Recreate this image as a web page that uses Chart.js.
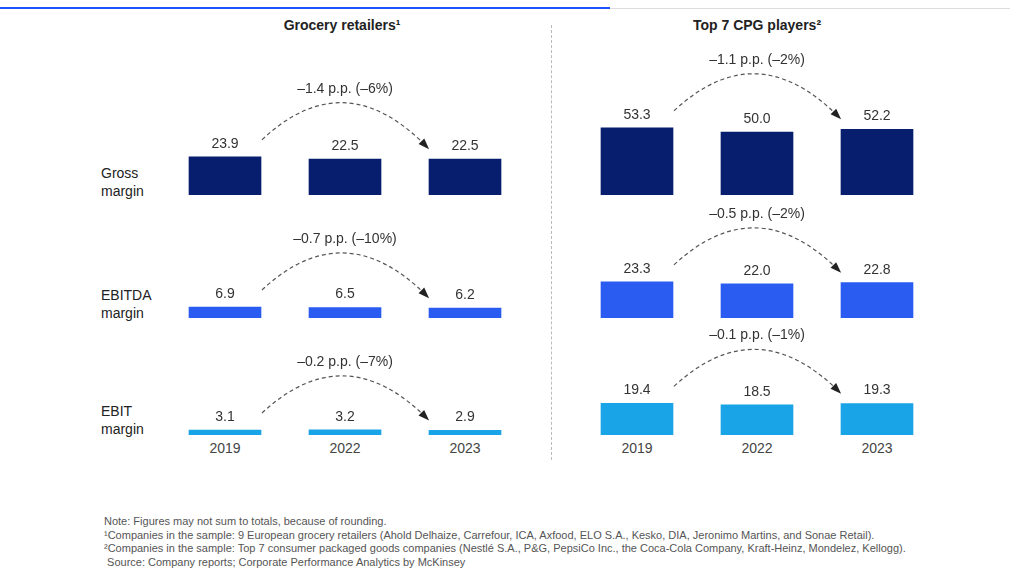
<!DOCTYPE html>
<html><head><meta charset="utf-8">
<script src="https://cdn.jsdelivr.net/npm/chart.js@4"></script>
<style>
body{margin:0;width:1024px;height:588px;background:#fff;font-family:Arial,"Liberation Sans",sans-serif;color:#222;position:relative;overflow:hidden}
.a{position:absolute}
canvas{position:absolute}
.t{font-weight:bold;font-size:14px;transform:translateX(-50%);white-space:nowrap}
.rl{font-size:14px;line-height:18px;color:#222}
.yr{font-size:14px;color:#444;transform:translateX(-50%)}
.fn{font-size:11px;color:#555;line-height:13.5px;left:104px;top:515px}
</style></head><body>
<div class="a" style="left:0;top:7px;width:610px;height:2px;background:#2251ff"></div>
<div class="a" style="left:610px;top:8px;width:400px;height:1px;background:#ddd"></div>
<div class="a" style="left:551px;top:25px;height:435px;border-left:1px dashed #bbb"></div>
<div class="a t" style="left:342px;top:17px">Grocery retailers¹</div>
<div class="a t" style="left:757px;top:17px">Top 7 CPG players²</div>
<div class="a rl" style="left:101px;top:164px">Gross<br>margin</div>
<div class="a rl" style="left:101px;top:286px">EBITDA<br>margin</div>
<div class="a rl" style="left:101px;top:402px">EBIT<br>margin</div>
<div id="yrs"></div>
<div class="a fn">Note: Figures may not sum to totals, because of rounding.<br>¹Companies in the sample: 9 European grocery retailers (Ahold Delhaize, Carrefour, ICA, Axfood, ELO S.A., Kesko, DIA, Jeronimo Martins, and Sonae Retail).<br>²Companies in the sample: Top 7 consumer packaged goods companies (Nestlé S.A., P&amp;G, PepsiCo Inc., the Coca-Cola Company, Kraft-Heinz, Mondelez, Kellogg).<br>&nbsp;Source: Company reports; Corporate Performance Analytics by McKinsey</div>
<script>
const years=['2019','2022','2023'];
const grocGross=[23.9,22.5,22.5], grocEbitda=[6.9,6.5,6.2], grocEbit=[3.1,3.2,2.9];
const cpgGross=[53.3,50.0,52.2], cpgEbitda=[23.3,22.0,22.8], cpgEbit=[19.4,18.5,19.3];
const changes=[['–1.4 p.p. (–6%)','–0.7 p.p. (–10%)','–0.2 p.p. (–7%)'],['–1.1 p.p. (–2%)','–0.5 p.p. (–2%)','–0.1 p.p. (–1%)']];
const colors=['#071d6e','#2a5cf2','#18a4e6'];
const cols=[{x:165,data:[grocGross,grocEbitda,grocEbit],ppu:[1.6,1.6,1.6]},{x:577,data:[cpgGross,cpgEbitda,cpgEbit],ppu:[1.26,1.55,1.63]}];
const rows=[{top:40,base:195},{top:198,base:318},{top:328,base:435}];
const yrs=document.getElementById('yrs');
cols.forEach(c=>years.forEach((y,i)=>{const d=document.createElement('div');d.className='a yr';d.style.left=(c.x+60+120*i)+'px';d.style.top='440px';d.textContent=y;yrs.appendChild(d);}));
const ann={id:'ann',afterDatasetsDraw(ch,a,o){const ctx=ch.ctx,m=ch.getDatasetMeta(0),vals=ch.data.datasets[0].data;
 ctx.save();ctx.fillStyle='#333';ctx.font='14px Arial, "Liberation Sans", sans-serif';ctx.textAlign='center';ctx.textBaseline='middle';
 const ly=m.data.map(b=>b.y-13);
 m.data.forEach((b,i)=>ctx.fillText(vals[i].toFixed(1),b.x,ly[i]));
 const ty=Math.min(...ly)-55;
 ctx.fillText(o.text,m.data[1].x,ty);
 const x0=m.data[0].x+37,y0=ly[0]-4,x2=m.data[2].x-38,y2=ly[2]+1;
 const peak=ty+14, cy=2*peak-(y0+y2)/2, cx=(x0+x2)/2;
 ctx.strokeStyle='#555';ctx.lineWidth=1.2;ctx.setLineDash([4,3]);
 ctx.beginPath();ctx.moveTo(x0,y0);ctx.quadraticCurveTo(cx,cy,x2,y2);ctx.stroke();
 ctx.setLineDash([]);
 const ang=Math.atan2(y2-cy,x2-cx);ctx.fillStyle='#222';ctx.beginPath();
 ctx.moveTo(x2+3*Math.cos(ang),y2+3*Math.sin(ang));
 ctx.lineTo(x2-8*Math.cos(ang)+4*Math.sin(ang),y2-8*Math.sin(ang)-4*Math.cos(ang));
 ctx.lineTo(x2-8*Math.cos(ang)-4*Math.sin(ang),y2-8*Math.sin(ang)+4*Math.cos(ang));ctx.closePath();ctx.fill();
 ctx.restore();}};
cols.forEach((c,ci)=>rows.forEach((r,ri)=>{
 const cv=document.createElement('canvas');const h=r.base-r.top;
 cv.style.left=c.x+'px';cv.style.top=r.top+'px';cv.style.width='360px';cv.style.height=h+'px';
 const wrap=document.createElement('div');wrap.className='a';wrap.style.left=c.x+'px';wrap.style.top=r.top+'px';wrap.style.width='360px';wrap.style.height=h+'px';
 document.body.appendChild(wrap);wrap.appendChild(cv);cv.style.left='0';cv.style.top='0';
 new Chart(cv,{type:'bar',data:{labels:years,datasets:[{data:c.data[ri],backgroundColor:colors[ri],barThickness:72,borderWidth:0}]},
  options:{responsive:true,maintainAspectRatio:false,animation:false,layout:{padding:0},
   plugins:{legend:{display:false},tooltip:{enabled:false},ann:{text:changes[ci][ri]}},
   scales:{x:{display:false},y:{display:false,min:0,max:h/c.ppu[ri]}}},plugins:[ann]});
}));
</script></body></html>
